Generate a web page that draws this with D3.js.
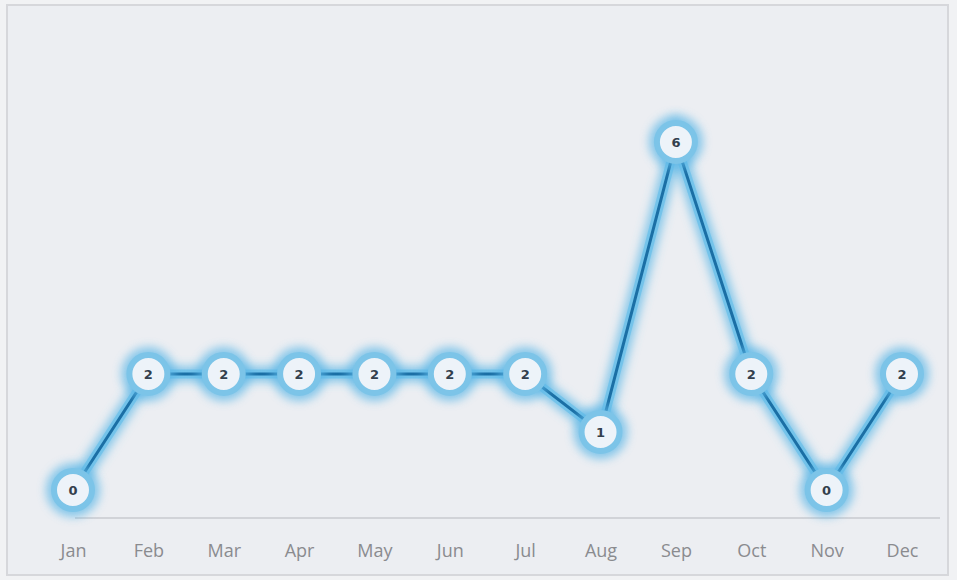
<!DOCTYPE html>
<html>
<head>
<meta charset="utf-8">
<script src="https://cdn.jsdelivr.net/npm/d3@7"></script>
<style>
  html, body { margin: 0; padding: 0; background: #f1f2f4; }
  svg { display: block; }
</style>
</head>
<body>
<svg id="chart" width="957" height="580"></svg>
<script>
// data
var months = ["Jan", "Feb", "Mar", "Apr", "May", "Jun", "Jul", "Aug", "Sep", "Oct", "Nov", "Dec"]
var counts = [0, 2, 2, 2, 2, 2, 2, 1, 6, 2, 0, 2]

const width = 957
const height = 580

var svg = d3.select('#chart')

// glow filter
var defs = svg.append("defs")
var f = defs.append("filter").attr("id", "glow")
    .attr("x", "-50%").attr("y", "-50%").attr("width", "200%").attr("height", "200%")
f.append("feGaussianBlur").attr("stdDeviation", 5)

// panel
svg.append("rect")
    .attr("x", 7).attr("y", 5)
    .attr("width", 941).attr("height", 570)
    .attr("fill", "#eceef2")
    .attr("stroke", "#d6d7db")
    .attr("stroke-width", 2)

const xScale = d3.scalePoint()
    .domain(months)
    .range([73, 902])

const yScale = d3.scaleLinear()
    .domain([0, 6])
    .range([490, 142])

// baseline
svg.append("line")
    .attr("x1", 75).attr("x2", 940)
    .attr("y1", 518).attr("y2", 518)
    .attr("stroke", "#c9cacf")
    .attr("stroke-width", 1.5)

// month labels
const xAxis = d3.axisBottom(xScale).tickSize(0).tickPadding(0)
var ax = svg.append("g").attr("transform", "translate(0,540)").call(xAxis)
ax.select(".domain").remove()
ax.selectAll("text")
    .attr("dy", "0.35em")
    .attr("y", 11)
    .attr("fill", "#8a8b8f")
    .style("font-family", "'Open Sans', sans-serif")
    .style("font-size", "18px")

var pts = months.map((m, i) => [xScale(m), yScale(counts[i])])
var line = d3.line()

// glow under line
svg.append("path")
    .attr("d", line(pts))
    .attr("fill", "none")
    .attr("stroke", "#5ab6e6")
    .attr("stroke-width", 16)
    .attr("stroke-opacity", 0.7)
    .attr("filter", "url(#glow)")

svg.append("path")
    .attr("d", line(pts))
    .attr("fill", "none")
    .attr("stroke", "#6cc0ea")
    .attr("stroke-width", 9)
    .attr("stroke-opacity", 0.8)

svg.append("path")
    .attr("d", line(pts))
    .attr("fill", "none")
    .attr("stroke", "#1b6fa5")
    .attr("stroke-width", 3)

// markers
var nodes = svg.append("g")
    .selectAll("g")
    .data(counts)
    .enter().append("g")
    .attr("transform", (d, i) => `translate(${xScale(months[i])},${yScale(d)})`)

nodes.append("circle")
    .attr("r", 27)
    .attr("fill", "#5ab6e6")
    .attr("opacity", 0.7)
    .attr("filter", "url(#glow)")

nodes.append("circle")
    .attr("r", 19)
    .attr("fill", "#edf3f9")
    .attr("stroke", "#7cc4e8")
    .attr("stroke-width", 6)

nodes.append("text")
    .attr("text-anchor", "middle")
    .attr("dy", "0.35em")
    .attr("fill", "#33404d")
    .style("font-family", "'DejaVu Sans', sans-serif")
    .style("font-weight", "bold")
    .style("font-size", "13px")
    .text(d => d)
</script>
</body>
</html>
